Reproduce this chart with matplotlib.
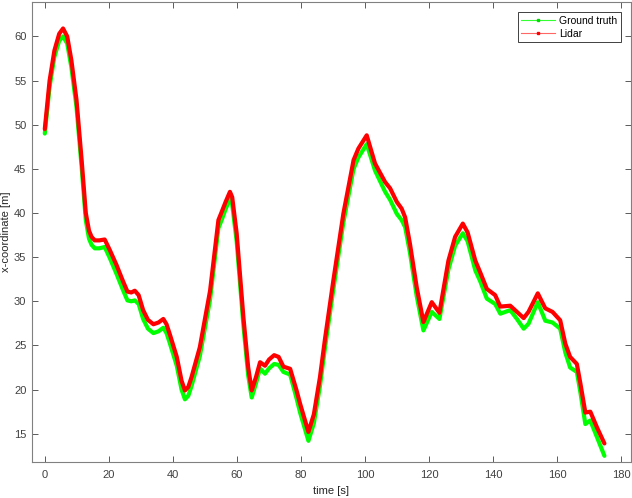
import matplotlib
matplotlib.use("Agg")
import matplotlib.pyplot as plt
from matplotlib.lines import Line2D

plt.rcParams['font.family'] = ['Liberation Sans', 'DejaVu Sans']

time_s = [0, 1.5, 3, 4.5, 5.7, 7, 8.3, 9.9, 11.5, 12.8, 13.8, 14.6, 15.6, 17, 18.7,
          20.3, 22.4, 24.5, 25.8, 27, 28.1, 29.3, 30.7, 32.2, 33.9, 35.5, 37, 38, 39,
          41.2, 42.7, 43.75, 44.8, 45.8, 48.4, 49.5, 50.5, 51.6, 54.2, 55.2, 56.5, 57.8, 58.5,
          59.9, 62, 63.5, 64.6, 66, 67.2, 68.75, 70, 71.6, 73, 74.5, 76.6, 78.6, 79.7,
          82.3, 84, 85.9, 87.5, 90.1, 93.2, 96.4, 97.9, 100.5, 103.1, 106.25, 107.8, 109.9,
          111.4, 112.5, 114, 116.1, 118.2, 120.8, 123.2, 126, 128.1, 130.5, 132, 134.4,
          135.9, 138, 140.6, 142.2, 145.3, 147.4, 149.5, 151, 153.9, 156.25, 158.5, 160.9,
          162.5, 164, 166.1, 167.2, 168.75, 170.3, 172.4, 174.7]

lidar_x = [49.5, 55.0, 58.4, 60.3, 60.9, 60.0, 57.3, 52.8, 46.0, 40.0, 38.0, 37.3, 36.9, 36.9, 37.0,
           35.8, 34.1, 32.2, 31.1, 31.0, 31.2, 30.7, 29.0, 27.9, 27.4, 27.6, 28.0, 27.4, 26.3,
           23.7, 21.0, 19.9, 20.3, 21.4, 24.8, 27.0, 29.0, 31.2, 39.2, 40.1, 41.3, 42.4, 41.8,
           37.7, 28.2, 22.5, 19.9, 21.5, 23.1, 22.7, 23.4, 23.9, 23.7, 22.6, 22.35, 19.9, 18.4,
           15.2, 17.2, 21.4, 25.8, 32.4, 39.9, 46.0, 47.3, 48.8, 45.6, 43.5, 42.8, 41.25,
           40.5, 39.5, 36.5, 31.6, 27.65, 29.9, 28.7, 34.6, 37.3, 38.8, 37.8, 34.6,
           33.3, 31.4, 30.7, 29.4, 29.5, 28.8, 28.1, 28.8, 30.9, 29.2, 28.8, 27.85,
           25.2, 23.7, 22.9, 20.7, 17.4, 17.5, 15.7, 13.9]

truth_x = [49.0, 54.3, 57.7, 59.5, 60.0, 59.2, 56.5, 52.0, 45.2, 39.2, 37.1, 36.4, 36.0, 36.0, 36.15,
           34.9, 33.1, 31.2, 30.1, 30.0, 30.1, 29.7, 28.0, 26.9, 26.4, 26.6, 27.0, 26.4, 25.3,
           22.7, 20.0, 18.9, 19.3, 20.4, 23.8, 26.0, 28.0, 30.2, 38.3, 39.2, 40.5, 41.6, 41.0,
           36.8, 27.3, 21.6, 19.1, 20.8, 22.4, 21.8, 22.4, 22.9, 22.8, 22.0, 21.7, 19.0, 17.4,
           14.2, 16.2, 20.4, 24.8, 31.4, 38.9, 45.0, 46.3, 47.8, 44.8, 42.4, 41.5, 39.9,
           39.2, 38.4, 35.5, 30.6, 26.7, 28.8, 28.0, 33.6, 36.3, 37.7, 36.8, 33.5,
           32.3, 30.3, 29.7, 28.6, 29.0, 28.0, 26.9, 27.45, 29.9, 27.8, 27.6, 26.9,
           24.2, 22.5, 22.0, 19.7, 16.1, 16.5, 14.6, 12.5]

fig = plt.figure(figsize=(6.32, 4.98), dpi=100)
ax = fig.add_axes([0.0506, 0.0723, 0.9478, 0.9237])

ax.plot(time_s, truth_x, color=(0, 1, 0), lw=3.0, solid_joinstyle='round', solid_capstyle='round')
ax.plot(time_s, lidar_x, color=(1, 0, 0), lw=3.0, solid_joinstyle='round', solid_capstyle='round')

ax.set_xlim(-4, 183)
ax.set_ylim(11.8, 63.9)
ax.set_xticks(range(0, 181, 20))
ax.set_yticks(range(15, 61, 5))
ax.set_xlabel('time [s]', fontsize=8, color='#262626', labelpad=4)
ax.set_ylabel('x-coordinate [m]', fontsize=8, color='#262626', labelpad=2)

for s in ax.spines.values():
    s.set_color('#808080')
    s.set_linewidth(0.8)
ax.tick_params(axis='both', which='both', direction='in', top=True, right=True,
               labelsize=8, colors='#404040', length=4, width=0.6)
ax.tick_params(axis='x', pad=6)
ax.tick_params(axis='y', pad=4)

handles = [Line2D([], [], color=(0.2, 1, 0.2), lw=0.8, marker='s', markersize=2,
                  markerfacecolor=(0, 0.85, 0), markeredgecolor=(0, 0.85, 0)),
           Line2D([], [], color=(1, 0.4, 0.4), lw=0.8, marker='s', markersize=2,
                  markerfacecolor=(1, 0, 0), markeredgecolor=(1, 0, 0))]
leg = ax.legend(handles, ['Ground truth', 'Lidar'], loc='upper right', fontsize=7.5,
                fancybox=False, framealpha=1, edgecolor='#404040', handlelength=3.2,
                borderaxespad=1.0, borderpad=0.35, labelspacing=0.25, handletextpad=0.4)
leg.get_frame().set_linewidth(0.7)

fig.savefig('out.png', dpi=100)
